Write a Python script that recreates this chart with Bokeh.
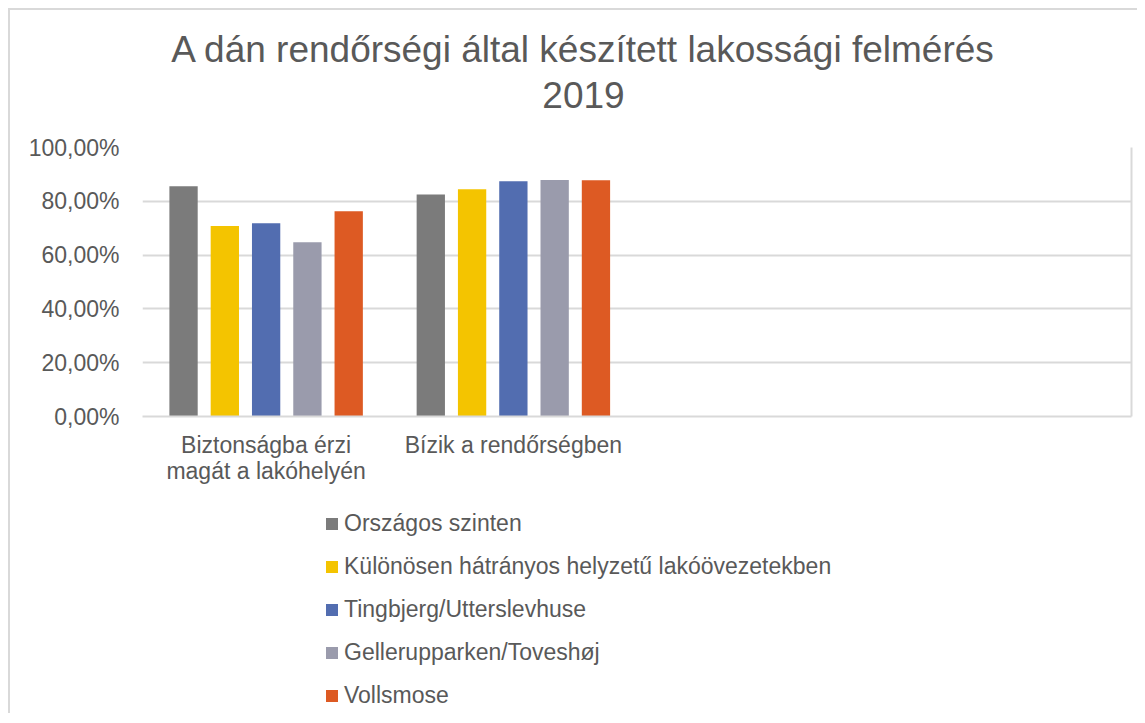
from bokeh.plotting import figure
from bokeh.layouts import column
from bokeh.models import (ColumnDataSource, FactorRange, Range1d, FixedTicker, Legend,
                          LegendItem, Label, LinearAxis)
from bokeh.transform import dodge
from bokeh.embed import file_html
from bokeh.resources import INLINE

# ---- data ----
title_line1 = "A dán rendőrségi által készített lakossági felmérés"
title_line2 = "2019"
categories = ["Biztonságba érzi\nmagát a lakóhelyén", "Bízik a rendőrségben", " ", "  "]
data_categories = categories[:2]
series_names = ["Országos szinten",
                "Különösen hátrányos helyzetű lakóövezetekben",
                "Tingbjerg/Utterslevhuse",
                "Gellerupparken/Toveshøj",
                "Vollsmose"]
orszagos = [0.856, 0.825]
kulonosen = [0.708, 0.845]
tingbjerg = [0.718, 0.875]
gellerup = [0.648, 0.879]
vollsmose = [0.763, 0.878]
y_ticks = [0, 0.2, 0.4, 0.6, 0.8, 1.0]
y_tick_labels = ["0,00%", "20,00%", "40,00%", "60,00%", "80,00%", "100,00%"]

colors = ["#7b7b7b", "#f4c400", "#526db0", "#9a9bac", "#dd5a23"]
series_values = [orszagos, kulonosen, tingbjerg, gellerup, vollsmose]

FONT = "Liberation Sans"
TXT = "#595959"
GRID = "#d9d9d9"
W = 1127


def bare(fig):
    fig.outline_line_color = None
    fig.background_fill_color = "white"
    fig.border_fill_color = "white"
    return fig


# ---- title block (frame aligned with the chart's frame by the column) ----
pt = bare(figure(width=W, height=120, output_backend="svg", toolbar_location=None,
                 x_range=Range1d(0, 1), y_range=Range1d(0, 1), title=None,
                 x_axis_location=None, y_axis_location=None,
                 min_border_left=0, min_border_right=0, min_border_top=0,
                 min_border_bottom=0))
pt.grid.visible = False
pt.add_layout(Label(x=441, y=81, x_units="screen", y_units="screen", text=title_line1,
                    text_align="center", text_baseline="alphabetic", text_font=FONT,
                    text_font_size="37px", text_color=TXT))
pt.add_layout(Label(x=441, y=36, x_units="screen", y_units="screen", text=title_line2,
                    text_align="center", text_baseline="alphabetic", text_font=FONT,
                    text_font_size="37px", text_color=TXT))

# ---- chart ----
p = bare(figure(width=W, height=370, output_backend="svg", toolbar_location=None,
                x_range=FactorRange(factors=categories, range_padding=0),
                y_range=Range1d(0, 1), title=None,
                min_border_left=132, min_border_right=6, min_border_top=17,
                min_border_bottom=84))

src = {"cat": data_categories}
for i, v in enumerate(series_values):
    src[f"s{i}"] = v
source = ColumnDataSource(src)

pitch = 0.167
for i, col in enumerate(colors):
    p.vbar(x=dodge("cat", (i - 2) * pitch, range=p.x_range), top=f"s{i}",
           width=0.1145, source=source, fill_color=col, line_color=None)

p.yaxis.ticker = FixedTicker(ticks=y_ticks)
p.yaxis.major_label_overrides = {t: l for t, l in zip(y_ticks, y_tick_labels)}
p.yaxis.axis_line_color = None
p.yaxis.major_tick_line_color = None
p.yaxis.minor_tick_line_color = None
p.yaxis.major_tick_out = 0
p.yaxis.major_label_standoff = 23
p.yaxis.major_label_text_font = FONT
p.yaxis.major_label_text_font_size = "23px"
p.yaxis.major_label_text_color = TXT

p.xaxis.axis_line_color = GRID
p.xaxis.axis_line_width = 2
p.xaxis.major_tick_line_color = None
p.xaxis.major_tick_out = 0
p.xaxis.major_label_standoff = 15
p.xaxis.major_label_text_font = FONT
p.xaxis.major_label_text_font_size = "23px"
p.xaxis.major_label_text_color = TXT
p.xaxis.major_label_text_line_height = 1.0

p.xgrid.grid_line_color = None
p.ygrid.grid_line_color = GRID
p.ygrid.grid_line_width = 2
p.ygrid.ticker = FixedTicker(ticks=y_ticks)

right_axis = LinearAxis(ticker=FixedTicker(ticks=[]), axis_line_color=GRID, axis_line_width=2,
                        major_tick_line_color=None, minor_tick_line_color=None,
                        major_label_text_font_size="0px")
p.add_layout(right_axis, "right")

# ---- legend block ----
pl = bare(figure(width=W, height=213, output_backend="svg", toolbar_location=None,
                 x_range=Range1d(0, 1), y_range=Range1d(0, 1), title=None,
                 x_axis_location=None, y_axis_location=None,
                 min_border_left=0, min_border_right=0, min_border_top=0,
                 min_border_bottom=0))
pl.grid.visible = False
items = []
for name, col in zip(series_names, colors):
    # zero-height proxy bar: only supplies the legend swatch
    r = pl.vbar(x=[0.5], top=[0], width=0.0, fill_color=col, line_color=None)
    items.append(LegendItem(label=name, renderers=[r]))
legend = Legend(items=items, location=(182, 4), orientation="vertical",
                glyph_width=15, glyph_height=15, label_height=27,
                spacing=16, label_standoff=5, padding=0, margin=0,
                border_line_color=None, background_fill_alpha=0,
                label_text_font=FONT, label_text_font_size="23px",
                label_text_color=TXT)
pl.add_layout(legend, "center")

layout = column(pt, p, pl, spacing=0,
                styles={"margin-left": "8px", "margin-top": "8px",
                        "border-left": "2px solid #d9d9d9",
                        "border-top": "2px solid #d9d9d9"})

open("out.html", "w").write(file_html(layout, INLINE))
